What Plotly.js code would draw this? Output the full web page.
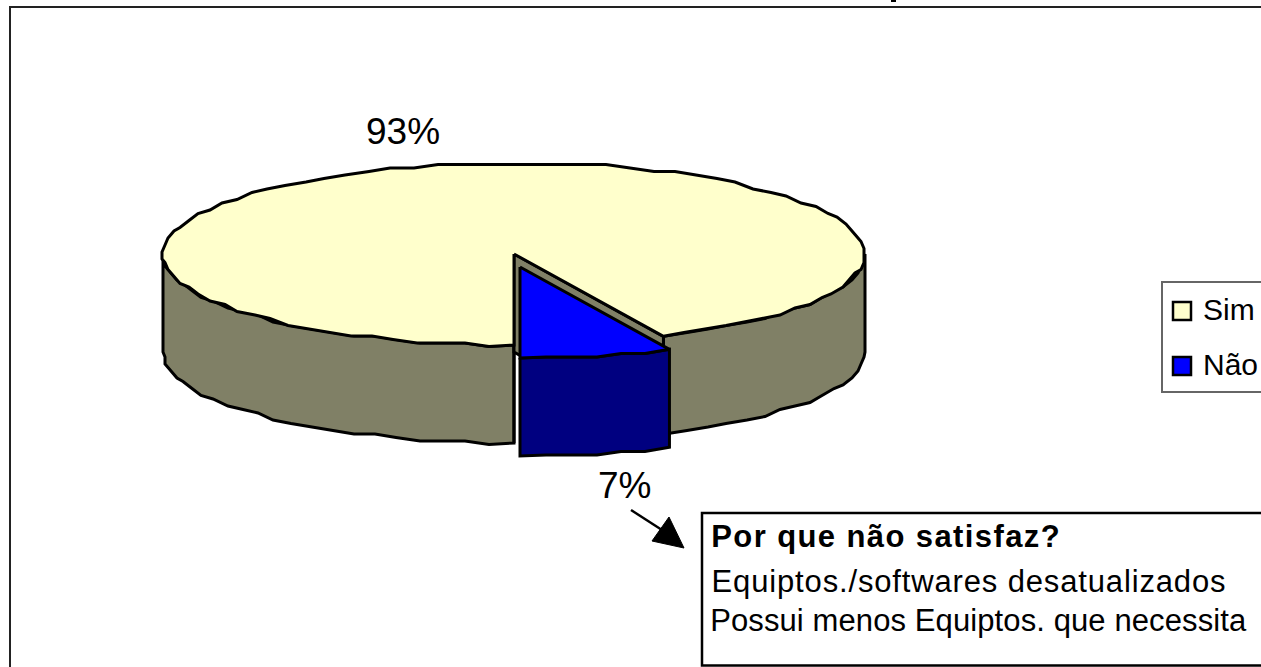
<!DOCTYPE html>
<html><head><meta charset="utf-8">
<script src="https://cdn.plot.ly/plotly-3.0.1.min.js"></script>
<style>html,body{margin:0;padding:0;background:#fff;overflow:hidden}
.annotation[data-index="4"] .annotation-text{letter-spacing:1.4px}
.annotation[data-index="5"] .annotation-text{letter-spacing:.85px}
.annotation[data-index="6"] .annotation-text{letter-spacing:.1px}
</style>
</head><body><div id="chart" style="width:1261px;height:667px"></div>
<script>
const categories = ['Sim', 'Não'];
const shares = [93, 7];
const shareLabels = ['93%', '7%'];
const calloutTitle = 'Por que não satisfaz?';
const calloutLines = ['Equiptos./softwares desatualizados', 'Possui menos Equiptos. que necessita'];

// projection of the tilted disc
const cx = 514, cy = 254, rx = 351, ry = 91, depth = 98, dx = 6, dy = 13;
const snapX = 3, snapY = 3.5;
function snap(p){ return [Math.round(p[0]/snapX)*snapX, Math.round(p[1]/snapY)*snapY]; }
function rim(a, ox, oy, drop){ // a = angle in degrees, 0 straight down, growing to the right
  const r = a*Math.PI/180;
  return [cx+(ox||0)+rx*Math.sin(r), cy+(oy||0)+ry*Math.cos(r)+(drop||0)];
}
function arc(a0, a1, ox, oy, drop){
  const out = [], n = Math.max(2, Math.round(Math.abs(a1-a0)/4));
  for (let i=0;i<=n;i++){
    const a = a0+(a1-a0)*i/n;
    const p = rim(a, ox, oy, drop);
    if (i===0||i===n) { out.push(p); continue; }
    const s = snap(p);
    const last = out[out.length-1];
    if (Math.abs(s[0]-last[0])>0.5 || Math.abs(s[1]-last[1])>0.5) out.push(s);
  }
  return out;
}
const sweep = shares[1]/(shares[0]+shares[1])*360;
function trace(pts, fill, name){
  const closed = pts.concat([pts[0]]);
  return {type:'scatter', mode:'lines', x:closed.map(p=>p[0]), y:closed.map(p=>p[1]),
    fill:'toself', fillcolor:fill, line:{color:'#000', width:3, simplify:false, join:'round'}, name:name, showlegend:false, hoverinfo:'name'};
}
const simSide = '#808066', simTop = '#FFFFCC', naoSide = '#000080', naoTop = '#0000FF';
const apex = [cx, cy];
// outer wall of Sim, left part
const leftArc = arc(-90, 0);
const leftWall = leftArc.concat(leftArc.map(p=>[p[0],p[1]+depth]).reverse());
// outer wall of Sim, right part
const rightArc = arc(sweep, 90);
const rightWall = rightArc.concat(rightArc.map(p=>[p[0],p[1]+depth]).reverse());
// inner cut wall of Sim
const cutEnd = rim(sweep);
const cutWall = [apex, cutEnd, [cutEnd[0],cutEnd[1]+depth], [cx,cy+depth]];
const leftCut = [apex, rim(0), [cx,cy+ry+depth], [cx,cy+depth]];
// top of Sim
const simFace = [apex].concat(arc(sweep, 360));
// Não slice, pulled out
const naoArcTop = arc(0, sweep, dx, dy);
const naoFront = naoArcTop.concat(naoArcTop.map(p=>[p[0],p[1]+depth]).reverse());
const naoFace = [[cx+dx,cy+dy]].concat(naoArcTop);

const data = [
  trace(leftWall, simSide, categories[0]),
  trace(rightWall, simSide, categories[0]),
  trace(leftCut, simSide, categories[0]),
  trace(cutWall, simSide, categories[0]),
  trace(simFace, simTop, categories[0]),
  trace(naoFront, naoSide, categories[1]),
  trace(naoFace, naoTop, categories[1])
];
const font = 'Liberation Sans, Arial, sans-serif';
function label(x,y,text,size,anchor,bold){
  return {xref:'x',yref:'y',x:x,y:y,text:bold?'<b>'+text+'</b>':text,showarrow:false,xanchor:anchor||'left',yanchor:'middle',
    font:{family:font,size:size,color:'#000'}};
}
function box(x0,y0,x1,y1,line,w,fill){
  return {type:'rect',xref:'x',yref:'y',x0,y0,x1,y1,line:{color:line,width:w},fillcolor:fill||'rgba(0,0,0,0)',layer:'above'};
}
const layout = {
  width:1261, height:667, margin:{l:0,r:0,t:0,b:0}, paper_bgcolor:'#fff', plot_bgcolor:'#fff', showlegend:false,
  xaxis:{range:[0,1261],visible:false,fixedrange:true},
  yaxis:{range:[667,0],visible:false,fixedrange:true},
  annotations:[
    label(403,131,shareLabels[0],37,'center'),
    label(624,485,shareLabels[1],37,'center'),
    label(1201,309,categories[0],30),
    label(1201,364,categories[1],30),
    label(724,536,calloutTitle,31,'left',true),
    label(724,581,calloutLines[0],31),
    label(710,620,calloutLines[1],31)
  ],
  shapes:[
    {type:'rect',xref:'x',yref:'y',x0:10,y0:7,x1:1300,y1:700,line:{color:'#222',width:2},layer:'below'},
    {type:'rect',xref:'x',yref:'y',x0:891,y0:-2,x1:896,y1:2,line:{width:0},fillcolor:'#000',layer:'above'},
    box(1162,282,1300,392,'#666',2,'#fff'),
    box(1173,302,1191,320,'#000',2.5,simTop),
    box(1173,357,1191,375,'#000',2.5,naoTop),
    box(702,513,1300,665.5,'#000',2.5,'#fff'),
    {type:'line',xref:'x',yref:'y',x0:631,y0:510,x1:662,y1:530,line:{color:'#000',width:2.5},layer:'above'},
    {type:'path',xref:'x',yref:'y',path:'M 684 548 L 652 541 L 669 517 Z',fillcolor:'#000',line:{color:'#000',width:1},layer:'above'}
  ]
};
Plotly.newPlot('chart', data, layout, {staticPlot:true, displayModeBar:false});
</script></body></html>
